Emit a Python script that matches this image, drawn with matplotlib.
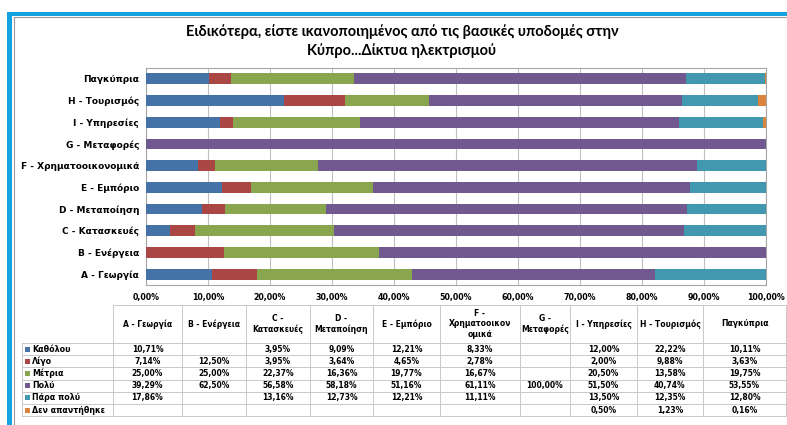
import matplotlib
matplotlib.use("Agg")
import matplotlib.pyplot as plt
import numpy as np

# Κατηγορίες με τη σειρά του πίνακα (η πρώτη σχεδιάζεται κάτω-κάτω)
categories = ["Α - Γεωργία", "Β - Ενέργεια", "C - Κατασκευές", "D - Μεταποίηση",
              "Ε - Εμπόριο", "F - Χρηματοοικονομικά", "G - Μεταφορές",
              "I - Υπηρεσίες", "Η - Τουρισμός", "Παγκύπρια"]
table_headers = ["Α - Γεωργία", "Β - Ενέργεια", "C -\nΚατασκευές", "D -\nΜεταποίηση",
                 "Ε - Εμπόριο", "F -\nΧρηματοοικον\nομικά", "G -\nΜεταφορές",
                 "I - Υπηρεσίες", "Η - Τουρισμός", "Παγκύπρια"]

series_names = ["Καθόλου", "Λίγο", "Μέτρια", "Πολύ", "Πάρα πολύ", "Δεν απαντήθηκε"]
nan = np.nan
katholou = [10.71, nan, 3.95, 9.09, 12.21, 8.33, nan, 12.00, 22.22, 10.11]
ligo = [7.14, 12.50, 3.95, 3.64, 4.65, 2.78, nan, 2.00, 9.88, 3.63]
metria = [25.00, 25.00, 22.37, 16.36, 19.77, 16.67, nan, 20.50, 13.58, 19.75]
poly = [39.29, 62.50, 56.58, 58.18, 51.16, 61.11, 100.00, 51.50, 40.74, 53.55]
para_poly = [17.86, nan, 13.16, 12.73, 12.21, 11.11, nan, 13.50, 12.35, 12.80]
den_apantithike = [nan, nan, nan, nan, nan, nan, nan, 0.50, 1.23, 0.16]
series = [katholou, ligo, metria, poly, para_poly, den_apantithike]
colors = ["#4572A7", "#AA4643", "#89A54E", "#71588F", "#4198AF", "#DB843D"]

W, H = 787, 425
fig = plt.figure(figsize=(W / 100, H / 100), dpi=100)

# πλαίσιο διαφάνειας
bg = fig.add_axes([0, 0, 1, 1])
bg.set_xlim(0, W)
bg.set_ylim(H, 0)
bg.axis("off")
bg.add_patch(plt.Rectangle((7, 12), 5, H, color="#14A3E0", lw=0))
bg.add_patch(plt.Rectangle((7, 12), W, 4, color="#14A3E0", lw=0))
bg.plot([13.5, 13.5], [17, H], color="#9A9A9A", lw=0.8)
bg.plot([13.5, W], [17, 17], color="#9A9A9A", lw=0.8)

bg.text(402, 41, "Ειδικότερα, είστε ικανοποιημένος από τις βασικές υποδομές στην\n"
        "Κύπρο...Δίκτυα ηλεκτρισμού", ha="center", va="center",
        fontsize=10.5, fontweight="bold", family="Lato", linespacing=1.35)

# γράφημα
ax = fig.add_axes([146 / W, 140 / H, 620 / W, 217 / H])
y = np.arange(len(categories))
left = np.zeros(len(categories))
for vals, name, c in zip(series, series_names, colors):
    v = np.nan_to_num(np.array(vals, dtype=float))
    ax.barh(y, v, left=left, height=0.5, color=c, label=name, zorder=3)
    left += v
ax.set_xlim(0, 100)
ax.set_ylim(-0.5, len(categories) - 0.5)
ax.set_yticks(y)
ax.set_yticklabels(categories, fontsize=6.5, fontweight="bold")
ax.set_xticks(np.arange(0, 101, 10))
ax.set_xticklabels([f"{t:.2f}%".replace(".", ",") for t in range(0, 101, 10)],
                   fontsize=5.7, fontweight="bold")
ax.tick_params(length=0, pad=6)
ax.tick_params(axis="y", pad=5)
ax.grid(axis="x", color="#BFBFBF", lw=0.8, zorder=0)
for s in ax.spines.values():
    s.set_color("#A6A6A6")
    s.set_linewidth(0.8)

# πίνακας δεδομένων
col_edges = [113, 182, 246, 310, 373, 440, 520, 570, 637, 703, 786]
label_x0 = 22
head_top, head_bot = 305, 343
row_h = 12.2
grid_c = "#C8C8C8"
n_rows = len(series)
bottom = head_bot + n_rows * row_h
for xe in col_edges:
    bg.plot([xe, xe], [head_top, bottom], color=grid_c, lw=0.7)
bg.plot([col_edges[0], col_edges[-1]], [head_top, head_top], color=grid_c, lw=0.7)
bg.plot([label_x0, label_x0], [head_bot, bottom], color=grid_c, lw=0.7)
for r in range(n_rows + 1):
    yy = head_bot + r * row_h
    bg.plot([label_x0, col_edges[-1]], [yy, yy], color=grid_c, lw=0.7)

for i, h in enumerate(table_headers):
    xc = (col_edges[i] + col_edges[i + 1]) / 2
    bg.text(xc, (head_top + head_bot) / 2, h, ha="center", va="center",
            fontsize=5.5, fontweight="bold", linespacing=1.25)

for r, (vals, name, c) in enumerate(zip(series, series_names, colors)):
    yc = head_bot + (r + 0.5) * row_h
    bg.add_patch(plt.Rectangle((25, yc - 2.6), 5.2, 5.2, color=c, lw=0))
    bg.text(32, yc, name, ha="left", va="center", fontsize=5.7, fontweight="bold")
    for i, v in enumerate(vals):
        if np.isnan(v):
            continue
        xc = (col_edges[i] + col_edges[i + 1]) / 2
        bg.text(xc, yc, f"{v:.2f}%".replace(".", ","), ha="center", va="center",
                fontsize=5.5, fontweight="bold")

fig.savefig("out.png", dpi=100)
plt.close(fig)
